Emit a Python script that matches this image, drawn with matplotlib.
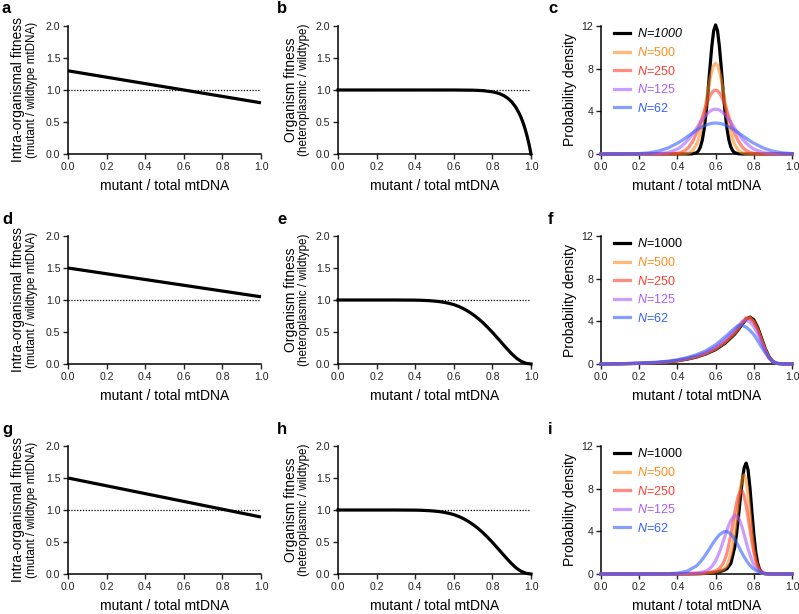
import matplotlib
matplotlib.use('Agg')
import matplotlib.pyplot as plt

plt.rcParams['font.family'] = ['Liberation Sans', 'DejaVu Sans']
plt.rcParams['mathtext.fontset'] = 'custom'
plt.rcParams['mathtext.it'] = 'Liberation Sans:italic'
plt.rcParams['mathtext.rm'] = 'Liberation Sans'

# ---------------- data ----------------
line_x = [0.0, 1.0]
a_y = [1.30, 0.80]
d_y = [1.50, 1.05]
g_y = [1.50, 0.89]

b_x = [0.0, 0.5, 0.6, 0.7, 0.75, 0.8, 0.82, 0.84, 0.86, 0.88, 0.9, 0.92, 0.94, 0.95,
       0.96, 0.97, 0.98, 0.99, 1.0]
b_y = [1.0, 1.0, 1.0, 0.997, 0.99, 0.972, 0.958, 0.939, 0.91, 0.871, 0.815, 0.737,
       0.628, 0.56, 0.48, 0.386, 0.276, 0.149, 0.0]

eh_x = [0.0, 0.1, 0.2, 0.3, 0.4, 0.425, 0.45, 0.475, 0.5, 0.525, 0.55, 0.575, 0.6,
        0.625, 0.65, 0.675, 0.7, 0.725, 0.75, 0.775, 0.8, 0.825, 0.85, 0.875, 0.9,
        0.925, 0.95, 0.975, 1.0]
e_y = [1.0, 1.0, 1.0, 1.0, 0.998, 0.996, 0.993, 0.989, 0.983, 0.975, 0.963, 0.948,
       0.928, 0.9, 0.865, 0.822, 0.772, 0.714, 0.648, 0.574, 0.495, 0.41, 0.325,
       0.24, 0.16, 0.09, 0.04, 0.01, 0.0]
h_y = [1.0, 1.0, 1.0, 1.0, 0.998, 0.996, 0.993, 0.989, 0.983, 0.975, 0.963, 0.948,
       0.928, 0.9, 0.865, 0.822, 0.772, 0.714, 0.648, 0.574, 0.495, 0.41, 0.325,
       0.24, 0.16, 0.09, 0.04, 0.01, 0.0]

pop_labels = ['1000', '500', '250', '125', '62']

c_x = [0.0, 0.05, 0.1, 0.15, 0.2, 0.25, 0.3, 0.35, 0.4, 0.42, 0.44, 0.46, 0.48, 0.5,
       0.51, 0.52, 0.53, 0.54, 0.55, 0.56, 0.57, 0.58, 0.59, 0.6, 0.61, 0.62, 0.63,
       0.64, 0.65, 0.66, 0.67, 0.68, 0.69, 0.7, 0.72, 0.74, 0.76, 0.78, 0.8, 0.85,
       0.9, 0.95, 1.0]
c_1000 = [0, 0, 0, 0, 0, 0, 0, 0, 0, 0, 0, 0, 0.02, 0.12, 0.29, 0.64, 1.28, 2.32, 3.84,
          5.80, 8.01, 10.07, 11.56, 12.1,
          11.56, 10.07, 8.01, 5.80, 3.84, 2.32, 1.28, 0.64, 0.29, 0.12, 0.02, 0, 0, 0,
          0, 0, 0, 0, 0]
c_500 = [0, 0, 0, 0, 0, 0, 0, 0, 0, 0.01, 0.03, 0.10, 0.32, 0.88, 1.35, 1.98, 2.79,
         3.75, 4.82, 5.91, 6.93, 7.76, 8.31, 8.5,
         8.31, 7.76, 6.93, 5.91, 4.82, 3.75, 2.79, 1.98, 1.35, 0.88, 0.32, 0.10, 0.03,
         0.01, 0, 0, 0, 0, 0]
c_250 = [0, 0, 0, 0, 0, 0, 0, 0.01, 0.07, 0.15, 0.33, 0.65, 1.18, 1.94, 2.40, 2.91,
         3.45, 3.99, 4.52, 5.01, 5.42, 5.73, 5.93, 6.0,
         5.93, 5.73, 5.42, 5.01, 4.52, 3.99, 3.45, 2.91, 2.40, 1.94, 1.18, 0.65, 0.33,
         0.15, 0.07, 0.01, 0, 0, 0]
c_125 = [0, 0, 0, 0, 0, 0.01, 0.03, 0.13, 0.46, 0.70, 1.02, 1.42, 1.89, 2.41, 2.68,
         2.95, 3.20, 3.44, 3.66, 3.84, 4.00, 4.11, 4.18, 4.2,
         4.18, 4.11, 4.00, 3.84, 3.66, 3.44, 3.20, 2.95, 2.68, 2.41, 1.89, 1.42, 1.02,
         0.70, 0.46, 0.13, 0.03, 0.01, 0]
c_62 = [0, 0, 0, 0.01, 0.04, 0.11, 0.27, 0.56, 1.01, 1.23, 1.47, 1.73, 1.98, 2.23,
        2.34, 2.45, 2.55, 2.64, 2.71, 2.78, 2.83, 2.87, 2.89, 2.9,
        2.89, 2.87, 2.83, 2.78, 2.71, 2.64, 2.55, 2.45, 2.34, 2.23, 1.98, 1.73, 1.47,
        1.23, 1.01, 0.56, 0.27, 0.11, 0.04]

f_x = [0.0, 0.1, 0.2, 0.3, 0.35, 0.4, 0.45, 0.5, 0.55, 0.6, 0.65, 0.7, 0.72, 0.74,
       0.76, 0.78, 0.8, 0.82, 0.84, 0.86, 0.88, 0.9, 0.92, 0.95, 1.0]
f_1000 = [0, 0.02, 0.06, 0.13, 0.2, 0.3, 0.45, 0.65, 0.95, 1.35, 1.95, 2.8, 3.25, 3.75,
          4.2, 4.4, 4.15, 3.45, 2.45, 1.45, 0.68, 0.23, 0.06, 0.01, 0]
f_500 = [0, 0.02, 0.06, 0.13, 0.2, 0.31, 0.47, 0.68, 0.98, 1.4, 2.02, 2.88, 3.33, 3.85,
         4.28, 4.35, 4.0, 3.3, 2.32, 1.37, 0.64, 0.22, 0.06, 0.01, 0]
f_250 = [0, 0.02, 0.06, 0.14, 0.21, 0.32, 0.49, 0.71, 1.02, 1.46, 2.1, 2.98, 3.45, 3.95,
         4.32, 4.3, 3.9, 3.2, 2.22, 1.3, 0.6, 0.21, 0.06, 0.01, 0]
f_125 = [0, 0.02, 0.07, 0.15, 0.23, 0.35, 0.53, 0.77, 1.1, 1.58, 2.27, 3.17, 3.6, 3.97,
         4.1, 3.95, 3.5, 2.85, 2.0, 1.2, 0.55, 0.2, 0.06, 0.01, 0]
f_62 = [0, 0.03, 0.08, 0.18, 0.27, 0.4, 0.6, 0.87, 1.25, 1.8, 2.55, 3.35, 3.62, 3.62,
        3.45, 3.15, 2.75, 2.2, 1.6, 1.05, 0.55, 0.22, 0.07, 0.01, 0]

i_x = [0.0, 0.1, 0.2, 0.3, 0.35, 0.4, 0.45, 0.5, 0.52, 0.54, 0.56, 0.58, 0.6, 0.62,
       0.64, 0.66, 0.68, 0.7, 0.71, 0.72, 0.73, 0.74, 0.75, 0.76, 0.77, 0.78, 0.79,
       0.8, 0.81, 0.82, 0.83, 0.84, 0.85, 0.86, 0.88, 0.9, 0.95, 1.0]
i_1000 = [0, 0, 0, 0, 0, 0, 0.01, 0.02, 0.03, 0.05, 0.07, 0.1, 0.15, 0.22, 0.32, 0.5,
          1.0, 2.5, 3.8, 5.45, 7.2, 8.84, 10.0, 10.4, 9.76, 8.06, 5.86, 3.75, 2.11,
          1.05, 0.46, 0.18, 0.06, 0.02, 0, 0, 0, 0]
i_500 = [0, 0, 0, 0, 0, 0, 0.01, 0.03, 0.05, 0.07, 0.1, 0.14, 0.2, 0.3, 0.42, 0.75,
         1.85, 3.91, 5.34, 6.81, 8.1, 8.98, 9.3, 8.8, 7.44, 5.64, 3.82, 2.32, 1.26,
         0.61, 0.27, 0.1, 0.04, 0.01, 0, 0, 0, 0]
i_250 = [0, 0, 0, 0, 0, 0.01, 0.02, 0.05, 0.07, 0.1, 0.14, 0.2, 0.3, 0.5, 1.0, 1.94,
         3.7, 5.77, 6.68, 7.38, 7.78, 7.78, 7.27, 6.42, 5.32, 4.14, 3.03, 2.08, 1.34,
         0.82, 0.46, 0.25, 0.12, 0.06, 0.01, 0, 0, 0]
i_125 = [0, 0, 0, 0, 0.01, 0.02, 0.05, 0.1, 0.14, 0.22, 0.38, 0.7, 1.22, 2.04, 3.07,
         4.15, 5.04, 5.49, 5.47, 5.26, 4.85, 4.31, 3.67, 3.0, 2.36, 1.79, 1.3, 0.9,
         0.61, 0.39, 0.24, 0.14, 0.08, 0.05, 0.01, 0, 0, 0]
i_62 = [0, 0, 0, 0.01, 0.03, 0.08, 0.26, 0.76, 1.13, 1.6, 2.14, 2.71, 3.25, 3.68,
        3.94, 3.99, 3.75, 3.25, 2.94, 2.6, 2.25, 1.91, 1.59, 1.3, 1.04, 0.81, 0.62,
        0.47, 0.34, 0.25, 0.18, 0.12, 0.08, 0.05, 0.02, 0.01, 0, 0]

x_ticks = [0.0, 0.2, 0.4, 0.6, 0.8, 1.0]
fit_ticks = [0.0, 0.5, 1.0, 1.5, 2.0]
dens_ticks = [0, 4, 8, 12]

pop_colors = ['#000000', '#FF8C1E', '#FF3F30', '#A95CFF', '#3560FF']
pop_alpha = [1.0, 0.6, 0.6, 0.6, 0.6]

# ---------------- layout ----------------
W, H = 799, 614
fig = plt.figure(figsize=(W / 100, H / 100), dpi=100)

col_left = [68, 338, 601]
col_width = [193, 193, 191]
row_top = [26, 236, 446]
AX_H = 128


def add_ax(c, r):
    return fig.add_axes([col_left[c] / W, 1 - (row_top[r] + AX_H) / H,
                         col_width[c] / W, AX_H / H])


def style(ax, ylim, yticks, fmt):
    ax.set_xlim(0, 1)
    ax.set_ylim(*ylim)
    ax.set_xticks(x_ticks)
    ax.set_xticklabels(['%.1f' % t for t in x_ticks])
    ax.set_yticks(yticks)
    ax.set_yticklabels([fmt % t for t in yticks])
    for s in ['top', 'right']:
        ax.spines[s].set_visible(False)
    for s in ['left', 'bottom']:
        ax.spines[s].set_linewidth(1.1)
    ax.tick_params(direction='out', length=3.5, width=1.0, labelsize=7.6, pad=2,
                   colors='#222222')
    ax.set_xlabel('mutant / total mtDNA', fontsize=10, labelpad=5)


def ylab2(c, r, line1, line2, off1, off2):
    yc = 1 - (row_top[r] + AX_H / 2) / H
    fig.text((col_left[c] + off1) / W, yc, line1, rotation=90, ha='center',
             va='center', fontsize=10)
    fig.text((col_left[c] + off2) / W, yc, line2, rotation=90, ha='center',
             va='center', fontsize=8.4)


panel_letters = [['a', 'b', 'c'], ['d', 'e', 'f'], ['g', 'h', 'i']]
letter_x = [2, 277, 548]
letter_base = [13, 224, 434]
for r in range(3):
    for c in range(3):
        fig.text(letter_x[c] / W, 1 - letter_base[r] / H, panel_letters[r][c],
                 fontsize=12, fontweight='bold', va='baseline', ha='left')

lines_data = [a_y, d_y, g_y]
org_data = [(b_x, b_y), (eh_x, e_y), (eh_x, h_y)]
dens_data = [
    (c_x, [c_1000, c_500, c_250, c_125, c_62]),
    (f_x, [f_1000, f_500, f_250, f_125, f_62]),
    (i_x, [i_1000, i_500, i_250, i_125, i_62]),
]

for r in range(3):
    # column 1: intra-organismal fitness
    ax = add_ax(0, r)
    ax.axhline(1.0, color='k', lw=0.9, ls=(0, (1, 1.3)), zorder=1)
    ax.plot(line_x, lines_data[r], color='k', lw=2.3, clip_on=False, zorder=3,
            solid_capstyle='butt')
    style(ax, (0, 2), fit_ticks, '%.1f')
    ylab2(0, r, 'Intra-organismal fitness', '(mutant / wildtype mtDNA)', -50, -36)

    # column 2: organism fitness
    ax = add_ax(1, r)
    ax.axhline(1.0, color='k', lw=0.9, ls=(0, (1, 1.3)), zorder=1)
    ox, oy = org_data[r]
    ax.plot(ox, oy, color='k', lw=2.3, clip_on=False, zorder=3)
    style(ax, (0, 2), fit_ticks, '%.1f')
    ylab2(1, r, 'Organism fitness', '(heteroplasmic / wildtype)', -47, -34)

    # column 3: probability density
    ax = add_ax(2, r)
    dx, series = dens_data[r]
    handles = []
    for k, ys in enumerate(series):
        h, = ax.plot(dx, ys, color=pop_colors[k], alpha=pop_alpha[k], lw=2.3,
                     clip_on=False, zorder=3 + k)
        handles.append(h)
    style(ax, (0, 12), dens_ticks, '%d')
    ax.set_ylabel('Probability density', fontsize=10, labelpad=3)
    labels = [r'$N$=' + p for p in pop_labels]
    leg = ax.legend(handles, labels, loc='upper left', bbox_to_anchor=(0.07, 0.99),
                    frameon=False, fontsize=9, handlelength=1.25,
                    handletextpad=0.55, labelspacing=0.45, borderpad=0,
                    borderaxespad=0, labelcolor=pop_colors)
    if r == 0:
        leg.get_texts()[0].set_fontstyle('italic')

fig.savefig('out.png', dpi=100)
